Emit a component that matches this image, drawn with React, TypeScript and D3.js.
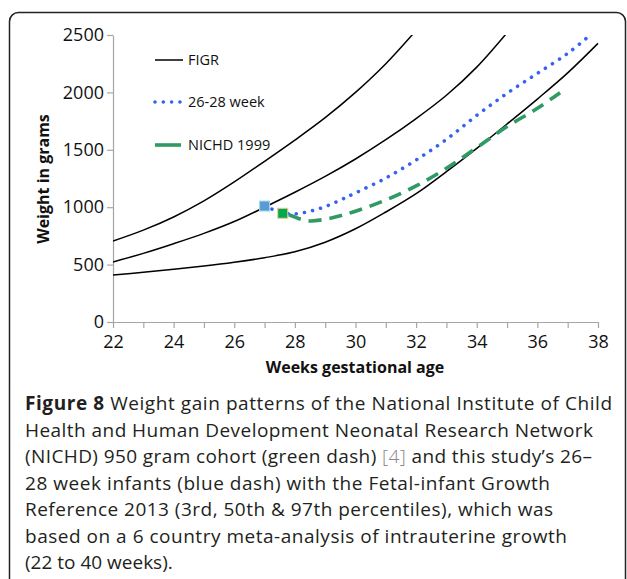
import { useEffect, useRef } from "react";
import * as d3 from "d3";

// FIGR 2013 percentiles (grams)
const figrWeeks = [22, 23, 24, 25, 26, 27, 28, 29, 30, 31, 32, 33, 34, 35, 36, 37, 38];
const figr3rd = [409, 433, 459, 487, 520, 560, 612, 695, 812, 958, 1118, 1310, 1513, 1725, 1942, 2170, 2427];
const figr50Weeks = [22, 23, 24, 25, 26, 27, 28, 29, 30, 31, 32, 33, 34, 35];
const figr50th = [523, 598, 682, 772, 875, 1000, 1130, 1268, 1420, 1588, 1772, 1975, 2220, 2520];
const figr97Weeks = [22, 23, 24, 25, 26, 27, 28, 29, 30, 31, 32];
const figr97th = [705, 800, 915, 1055, 1220, 1400, 1585, 1780, 2000, 2250, 2540];

// this study's 26-28 week infants (blue dots)
const studyWeeks = [27, 27.5, 28, 28.5, 29, 29.5, 30, 31, 32, 33, 34, 35, 36, 37, 37.7];
const studyWeight = [1010, 960, 942, 965, 1005, 1062, 1124, 1254, 1411, 1591, 1800, 1992, 2166, 2340, 2490];

// NICHD 1999 cohort (green dash)
const nichdWeeks = [27.6, 27.85, 28.2, 28.5, 29, 29.5, 30, 31, 32, 33, 34, 35, 36, 36.75];
const nichdWeight = [947, 930, 895, 880, 895, 925, 965, 1062, 1185, 1339, 1519, 1702, 1861, 1997];

const yTicks = [0, 500, 1000, 1500, 2000, 2500];
const xTicks = d3.range(22, 39);

const captionLines = [
  "Health and Human Development Neonatal Research Network",
  "28 week infants (blue dash) with the Fetal-infant Growth",
  "Reference 2013 (3rd, 50th & 97th percentiles), which was",
  "based on a 6 country meta-analysis of intrauterine growth",
  "(22 to 40 weeks).",
];

const FONT = "'Open Sans', 'DejaVu Sans', sans-serif";

function App() {
  const svgRef = useRef<SVGSVGElement | null>(null);

  useEffect(() => {
    const svg = d3.select(svgRef.current!);
    svg.selectAll("*").remove();

    const x = d3.scaleLinear().domain([22, 38]).range([113, 598]);
    const y = d3.scaleLinear().domain([0, 2500]).range([322, 35]);

    // panel border (bottom runs off the page)
    svg.append("rect")
      .attr("x", 9.5).attr("y", 12.5)
      .attr("width", 616).attr("height", 640)
      .attr("rx", 9)
      .attr("fill", "none").attr("stroke", "#222").attr("stroke-width", 1.5);

    svg.append("defs").append("clipPath").attr("id", "plot")
      .append("rect").attr("x", 113).attr("y", 35).attr("width", 490).attr("height", 290);

    // axes
    const xAxis = svg.append("g").attr("transform", "translate(0,322)")
      .call(d3.axisBottom(x).tickValues(xTicks).tickSize(6).tickSizeOuter(0).tickPadding(7)
        .tickFormat(d => (+d % 2 === 0 ? String(d) : "")));
    const yAxis = svg.append("g").attr("transform", "translate(113,0)")
      .call(d3.axisLeft(y).tickValues(yTicks).tickSize(6).tickSizeOuter(0).tickPadding(3)
        .tickFormat(d => String(d)));
    [xAxis, yAxis].forEach(a => {
      a.select(".domain").attr("stroke", "#a6a6a6").attr("stroke-width", 1.2);
      a.selectAll(".tick line").attr("stroke", "#a6a6a6").attr("stroke-width", 1.2);
      a.selectAll(".tick text").attr("fill", "#111").style("font-family", FONT).style("font-size", "18px");
    });

    const line = d3.line<[number, number]>()
      .x(d => x(d[0])).y(d => y(d[1]))
      .curve(d3.curveCatmullRom.alpha(0.5));

    const plot = svg.append("g").attr("clip-path", "url(#plot)");
    [
      [figrWeeks, figr3rd],
      [figr50Weeks, figr50th],
      [figr97Weeks, figr97th],
    ].forEach(([ws, vs]) => {
      plot.append("path")
        .attr("d", line(ws.map((w, i) => [w, vs[i]] as [number, number])))
        .attr("fill", "none").attr("stroke", "#000").attr("stroke-width", 1.5);
    });

    plot.append("path")
      .attr("d", line(nichdWeeks.map((w, i) => [w, nichdWeight[i]] as [number, number])))
      .attr("fill", "none").attr("stroke", "#2f9a63").attr("stroke-width", 3.6)
      .attr("stroke-dasharray", "13 8").attr("stroke-dashoffset", -6);

    plot.append("path")
      .attr("d", line(studyWeeks.map((w, i) => [w, studyWeight[i]] as [number, number])))
      .attr("fill", "none").attr("stroke", "#3462f2").attr("stroke-width", 3.6)
      .attr("stroke-linecap", "round").attr("stroke-dasharray", "0.01 8.3")
      .attr("stroke-dashoffset", -8);

    // starting markers
    svg.append("rect")
      .attr("x", x(studyWeeks[0]) - 5).attr("y", y(studyWeight[0]) - 5)
      .attr("width", 10).attr("height", 10)
      .attr("fill", "#5b9bd5").attr("stroke", "#9fd8ee").attr("stroke-width", 1);
    svg.append("rect")
      .attr("x", x(nichdWeeks[0]) - 5).attr("y", y(nichdWeight[0]) - 5)
      .attr("width", 10).attr("height", 10)
      .attr("fill", "#00a84f").attr("stroke", "#f0c890").attr("stroke-width", 1);

    // legend
    const lg = svg.append("g").style("font-family", FONT).style("font-size", "14.5px");
    lg.append("line").attr("x1", 155).attr("x2", 183).attr("y1", 60).attr("y2", 60)
      .attr("stroke", "#000").attr("stroke-width", 1.5);
    lg.append("line").attr("x1", 155).attr("x2", 181).attr("y1", 102).attr("y2", 102)
      .attr("stroke", "#3462f2").attr("stroke-width", 3.6).attr("stroke-linecap", "round")
      .attr("stroke-dasharray", "0.01 8.3");
    lg.append("line").attr("x1", 155).attr("x2", 181).attr("y1", 145).attr("y2", 145)
      .attr("stroke", "#2f9a63").attr("stroke-width", 3.6);
    [["FIGR", 60], ["26-28 week", 102], ["NICHD 1999", 145]].forEach(([t, yy]) => {
      lg.append("text").attr("x", 188).attr("y", +yy).attr("dy", "0.36em")
        .attr("fill", "#111").text(String(t));
    });

    // axis titles
    svg.append("text")
      .attr("transform", "translate(43,179) rotate(-90)")
      .attr("text-anchor", "middle").attr("dy", "0.36em")
      .style("font-family", FONT).style("font-size", "16px").style("font-weight", "bold")
      .attr("fill", "#111").text("Weight in grams");
    svg.append("text")
      .attr("x", 355).attr("y", 373).attr("text-anchor", "middle")
      .style("font-family", FONT).style("font-size", "16px").style("font-weight", "bold")
      .attr("fill", "#111").text("Weeks gestational age");

    // caption
    const cap = svg.append("g").style("font-family", FONT).style("font-size", "19px").attr("fill", "#231f20");
    const t1 = cap.append("text").attr("x", 25).attr("y", 410).attr("textLength", 587).attr("lengthAdjust", "spacing");
    t1.append("tspan").style("font-weight", "bold").text("Figure 8");
    t1.append("tspan").text(" Weight gain patterns of the National Institute of Child");
    const t3 = cap.append("text").attr("x", 25).attr("y", 463).attr("textLength", 567).attr("lengthAdjust", "spacing");
    t3.append("tspan").text("(NICHD) 950 gram cohort (green dash) ");
    t3.append("tspan").attr("fill", "#8a8a8a").style("font-weight", "300").text("[4]");
    t3.append("tspan").text(" and this study\u2019s 26\u2013");
    const ends = [593, 550, 553, 567, 183];
    const ys = [436.5, 489.5, 516, 542.5, 569];
    captionLines.forEach((s, i) => {
      const t = cap.append("text").attr("x", 25).attr("y", ys[i]).text(s);
      if (i < 4) t.attr("textLength", ends[i] - 25).attr("lengthAdjust", "spacing");
    });
  }, []);

  return (
    <svg
      ref={svgRef}
      width={627}
      height={579}
      style={{ position: "absolute", left: 0, top: 0, background: "#fff" }}
    />
  );
}

export default App;
